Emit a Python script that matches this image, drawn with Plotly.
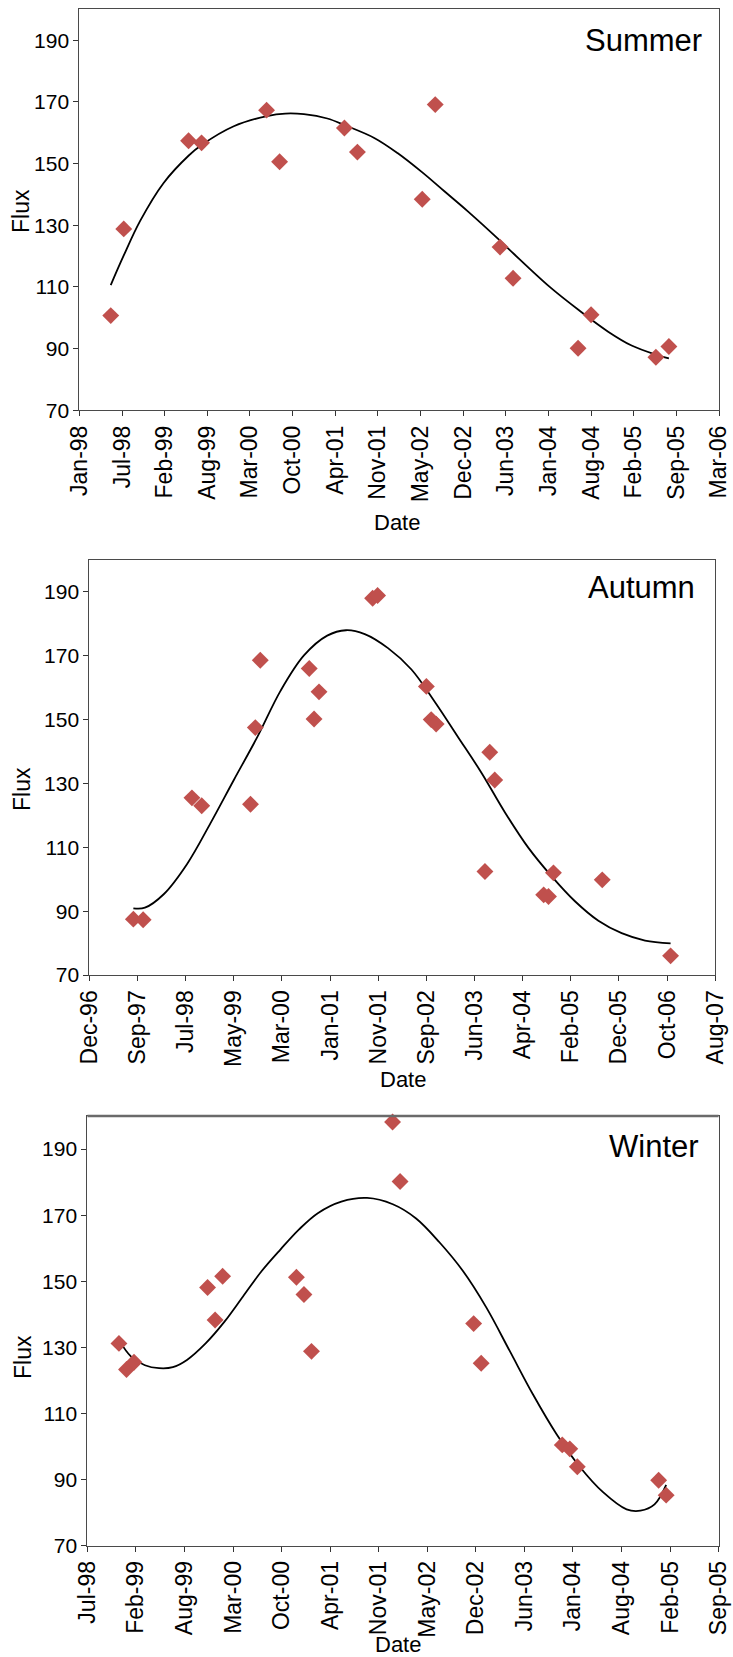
import plotly.graph_objects as go

# ---------------- data ----------------
summer_dates = ["1998-06-01", "1998-08-01", "1999-06-01", "1999-08-01", "2000-06-01", "2000-08-01",
                "2001-06-01", "2001-08-01", "2002-06-01", "2002-08-01", "2003-06-01", "2003-08-01",
                "2004-06-01", "2004-08-01", "2005-06-01", "2005-08-01"]
summer_flux = [100.7, 128.8, 157.4, 156.7, 167.3, 150.6, 161.5, 153.7, 138.4, 169.1, 122.9, 112.8,
               90.1, 101.0, 87.2, 90.7]

summer_trend_dates = ["1998-06-01", "1998-08-01", "1998-10-17", "1999-02-04", "1999-06-02", "1999-08-01",
                      "1999-12-30", "2000-06-03", "2000-08-28", "2000-11-23", "2001-03-13", "2001-06-04",
                      "2001-10-19", "2002-02-05", "2002-05-31", "2002-09-13", "2003-01-01", "2003-06-01",
                      "2003-08-08", "2004-01-20", "2004-06-04", "2004-10-20", "2005-02-07", "2005-06-03",
                      "2005-08-01"]
summer_trend = [110.6, 120.2, 131.4, 143.7, 152.6, 156.0, 162.1, 165.4, 166.2, 166.0, 164.6, 162.4,
                158.3, 153.4, 147.2, 141.0, 134.5, 125.0, 120.5, 110.0, 102.5, 95.5, 91.0, 88.0, 86.8]

autumn_dates = ["1997-09-01", "1997-11-01", "1998-09-01", "1998-11-01", "1999-09-01", "1999-10-01",
                "1999-11-01", "2000-09-01", "2000-10-01", "2000-11-01", "2001-10-01", "2001-11-01",
                "2002-09-01", "2002-10-01", "2002-11-01", "2003-09-01", "2003-10-01", "2003-11-01",
                "2004-09-01", "2004-10-01", "2004-11-01", "2005-09-01", "2006-11-01"]
autumn_flux = [87.5, 87.3, 125.5, 123.0, 123.5, 147.5, 168.6, 166.0, 150.2, 158.7, 188.0, 188.9,
               160.4, 150.0, 148.6, 102.4, 139.8, 131.1, 95.1, 94.6, 102.0, 99.8, 76.0]

autumn_trend_dates = ["1997-09-01", "1997-11-12", "1998-03-09", "1998-08-02", "1998-12-25", "1999-05-20",
                      "1999-10-13", "2000-03-06", "2000-07-30", "2000-12-22", "2001-04-18", "2001-08-13",
                      "2002-01-05", "2002-05-31", "2002-10-23", "2003-03-18", "2003-08-11", "2004-01-03",
                      "2004-05-28", "2004-10-21", "2005-03-15", "2005-08-08", "2005-12-31", "2006-05-26",
                      "2006-11-01"]
autumn_trend = [90.9, 91.1, 95.3, 104.8, 117.5, 131.1, 144.5, 159.0, 170.1, 176.3, 178.0, 176.8,
                172.4, 165.7, 155.6, 144.5, 133.3, 121.0, 109.9, 100.9, 93.1, 87.0, 83.1, 80.8, 79.9]

winter_dates = ["1998-12-01", "1999-01-01", "1999-02-01", "1999-12-01", "2000-01-01", "2000-02-01",
                "2000-12-01", "2001-01-01", "2001-02-01", "2002-01-01", "2002-02-01", "2002-12-01",
                "2003-01-01", "2003-12-01", "2004-01-01", "2004-02-01", "2005-01-01", "2005-02-01"]
winter_flux = [131.2, 123.3, 125.5, 148.1, 138.3, 151.5, 151.2, 146.0, 128.8, 198.2, 180.2, 137.2,
               125.2, 100.5, 99.3, 93.9, 89.8, 85.3]

winter_trend_dates = ["1998-12-01", "1999-01-19", "1999-03-18", "1999-05-15", "1999-07-11", "1999-09-07",
                      "1999-11-23", "2000-02-08", "2000-04-25", "2000-07-11", "2000-09-26", "2000-12-12",
                      "2001-02-27", "2001-06-04", "2001-09-18", "2002-01-02", "2002-04-08", "2002-07-13",
                      "2002-10-18", "2003-01-22", "2003-04-28", "2003-08-02", "2003-11-07", "2004-02-11",
                      "2004-05-17", "2004-08-22", "2004-10-18", "2004-12-15", "2005-02-01"]
winter_trend = [132.2, 127.3, 124.6, 123.7, 124.0, 126.2, 131.2, 137.7, 145.4, 153.1, 159.6, 165.7,
                170.6, 174.1, 175.2, 173.3, 169.0, 161.8, 153.1, 142.1, 129.0, 115.8, 103.8, 93.9,
                86.2, 81.0, 80.6, 82.5, 88.4]

season_names = ["Summer", "Autumn", "Winter"]
y_ticks = [70, 90, 110, 130, 150, 170, 190]
DAY_MS = 86400000

# ---------------- layout geometry (pixels) ----------------
W, H = 733, 1657
FONT = "Liberation Sans, Arial, sans-serif"
MARKER_RED = "#C0504D"
AXIS_GREY = "#4a4a4a"

panels = [
    dict(dates=summer_dates, flux=summer_flux, tdates=summer_trend_dates, trend=summer_trend,
         box=(79.4, 719.0, 9.3, 410.3), xrange=("1998-01-05", "2006-03-24"), tick0="1998-01-05",
         step=200, label_xy=(704, 40), flux_xy=(21, 211), date_xy=(397, 522), top_w=1.2),
    dict(dates=autumn_dates, flux=autumn_flux, tdates=autumn_trend_dates, trend=autumn_trend,
         box=(89.4, 715.2, 560.0, 975.0), xrange=("1996-12-01", "2007-08-06"), tick0="1996-12-01",
         step=300, label_xy=(697, 588), flux_xy=(22, 789), date_xy=(403, 1079), top_w=1.2),
    dict(dates=winter_dates, flux=winter_flux, tdates=winter_trend_dates, trend=winter_trend,
         box=(87.4, 718.6, 1116.0, 1545.7), xrange=("1998-07-24", "2005-09-05"), tick0="1998-07-24",
         step=200, label_xy=(701, 1146), flux_xy=(23, 1357), date_xy=(398, 1644), top_w=2.4),
]

fig = go.Figure()
annotations = []
shapes = []
layout = dict(width=W, height=H, margin=dict(l=0, r=0, t=0, b=0, autoexpand=False),
              paper_bgcolor="white", plot_bgcolor="white", showlegend=False,
              font=dict(family=FONT, color="black"))

for i, (p, name) in enumerate(zip(panels, season_names), start=1):
    sfx = "" if i == 1 else str(i)
    xa, ya = "x" + sfx, "y" + sfx
    left, right, top, bottom = p["box"]

    fig.add_trace(go.Scatter(x=p["tdates"], y=p["trend"], mode="lines",
                             line=dict(color="black", width=1.8, shape="spline", smoothing=1.0),
                             xaxis=xa, yaxis=ya, hoverinfo="skip"))
    fig.add_trace(go.Scatter(x=p["dates"], y=p["flux"], mode="markers",
                             marker=dict(symbol="diamond", size=13, color=MARKER_RED,
                                         line=dict(width=0)),
                             xaxis=xa, yaxis=ya, cliponaxis=False))

    layout["xaxis" + sfx] = dict(
        type="date", domain=[left / W, right / W], anchor=ya, range=list(p["xrange"]),
        tick0=p["tick0"], dtick=p["step"] * DAY_MS, tickformat="%b-%y", tickangle=-90,
        showline=True, mirror=True, linecolor=AXIS_GREY, linewidth=1.2,
        ticks="outside", ticklen=5, tickwidth=1, tickcolor="#333333", automargin=False,
        showgrid=False, zeroline=False, tickfont=dict(family=FONT, size=23, color="black"),
    )
    layout["yaxis" + sfx] = dict(
        domain=[1 - bottom / H, 1 - top / H], anchor=xa, range=[70, 200],
        tickvals=y_ticks, ticktext=[str(v) for v in y_ticks], automargin=False,
        showline=True, mirror=True, linecolor=AXIS_GREY, linewidth=1.2,
        ticks="outside", ticklen=5, tickwidth=1, tickcolor="#333333",
        showgrid=False, zeroline=False, tickfont=dict(family=FONT, size=21, color="black"),
    )

    # heavier top frame edge where the panel has one
    if p["top_w"] > 1.5:
        shapes.append(dict(type="line", xref=xa + " domain", yref=ya + " domain",
                           x0=0, x1=1, y0=1, y1=1,
                           line=dict(color="#6a6a6a", width=p["top_w"])))

    lx, ly = p["label_xy"]
    annotations.append(dict(text=name, x=lx / W, y=1 - ly / H, xref="paper", yref="paper",
                            xanchor="right", yanchor="middle", showarrow=False,
                            font=dict(family=FONT, size=31, color="black")))
    fx, fy = p["flux_xy"]
    annotations.append(dict(text="Flux", x=fx / W, y=1 - fy / H, xref="paper", yref="paper",
                            xanchor="center", yanchor="middle", textangle=-90, showarrow=False,
                            font=dict(family=FONT, size=23, color="black")))
    dx, dy = p["date_xy"]
    annotations.append(dict(text="Date", x=dx / W, y=1 - dy / H, xref="paper", yref="paper",
                            xanchor="center", yanchor="middle", showarrow=False,
                            font=dict(family=FONT, size=22, color="black")))

layout["annotations"] = annotations
layout["shapes"] = shapes
fig.update_layout(**layout)
fig.write_html("out.html")
